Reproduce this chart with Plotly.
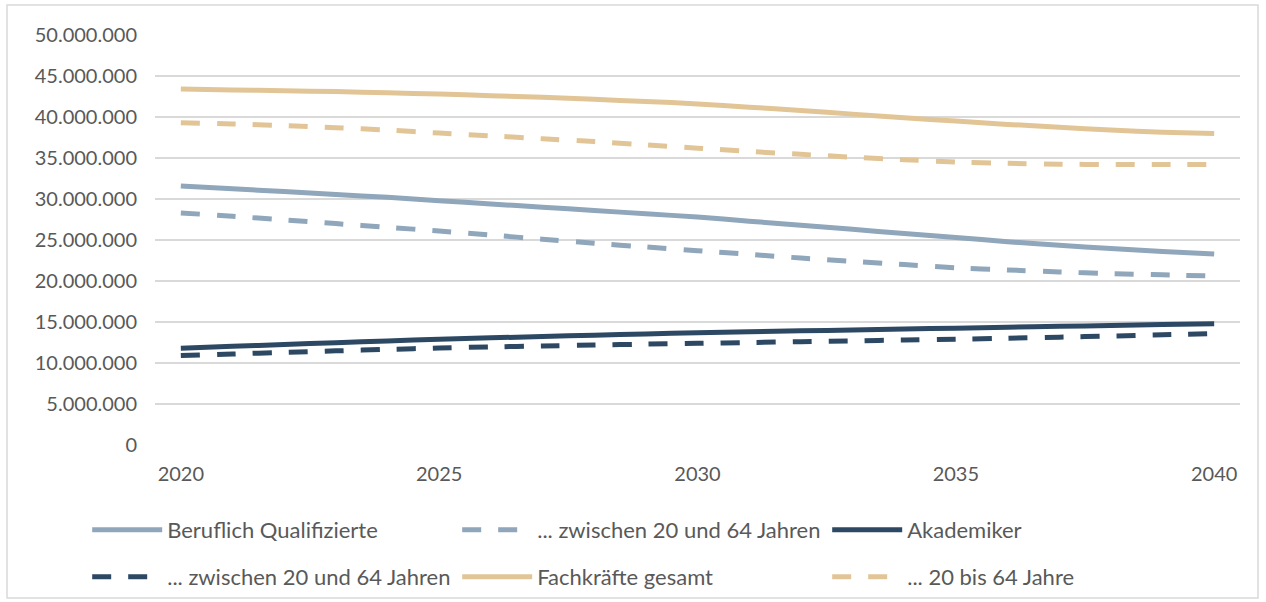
import plotly.graph_objects as go

# Jahre 2020-2040
years = list(range(2020, 2041))

# Werte in Mio. Personen
beruflich = [31.6, 31.25, 30.9, 30.55, 30.2, 29.8, 29.4, 29.0, 28.6, 28.2, 27.8,
             27.3, 26.8, 26.3, 25.8, 25.3, 24.8, 24.35, 23.95, 23.6, 23.3]
beruflich_20_64 = [28.3, 27.9, 27.45, 27.0, 26.55, 26.1, 25.6, 25.1, 24.6, 24.15, 23.7,
                   23.25, 22.8, 22.4, 22.0, 21.6, 21.35, 21.1, 20.9, 20.75, 20.6]
akademiker = [11.8, 12.03, 12.26, 12.48, 12.69, 12.9, 13.07, 13.23, 13.39, 13.55, 13.7,
              13.81, 13.92, 14.03, 14.14, 14.25, 14.36, 14.47, 14.58, 14.69, 14.8]
akademiker_20_64 = [10.9, 11.1, 11.3, 11.48, 11.66, 11.83, 11.96, 12.08, 12.19, 12.3, 12.4,
                    12.5, 12.6, 12.7, 12.8, 12.9, 13.02, 13.15, 13.29, 13.44, 13.6]
gesamt = [43.4, 43.3, 43.2, 43.1, 42.95, 42.8, 42.6, 42.4, 42.15, 41.9, 41.6,
          41.2, 40.8, 40.35, 39.9, 39.5, 39.1, 38.75, 38.4, 38.15, 38.0]
gesamt_20_64 = [39.3, 39.15, 38.95, 38.7, 38.4, 38.05, 37.7, 37.35, 37.0, 36.6, 36.2,
                35.8, 35.45, 35.1, 34.8, 34.5, 34.35, 34.25, 34.2, 34.2, 34.2]

x_ticks = [2020, 2025, 2030, 2035, 2040]
y_ticks = list(range(0, 50_000_001, 5_000_000))

BLUE = "#8FA6BB"
NAVY = "#2C4863"
TAN = "#E2C596"
GRID = "#D9D9D9"
TEXT = "#595959"
FONT = "Lato, Carlito, Calibri, sans-serif"
DASH = "19px,17px"

series = [
    ("Beruflich Qualifizierte", beruflich, BLUE, "solid", "legend"),
    ("... zwischen 20 und 64 Jahren", beruflich_20_64, BLUE, DASH, "legend"),
    ("Akademiker", akademiker, NAVY, "solid", "legend"),
    ("... zwischen 20 und 64 Jahren", akademiker_20_64, NAVY, DASH, "legend2"),
    ("Fachkräfte gesamt", gesamt, TAN, "solid", "legend2"),
    ("... 20 bis 64 Jahre", gesamt_20_64, TAN, DASH, "legend2"),
]

fig = go.Figure()
for name, vals, color, dash, leg in series:
    fig.add_trace(go.Scatter(
        x=years, y=[v * 1e6 for v in vals],
        mode="lines", name=name, legend=leg,
        line=dict(color=color, width=5, dash=dash, shape="spline", smoothing=0.6),
        hovertemplate=f"{name}<br>%{{x}}: %{{y:,.0f}}<extra></extra>",
    ))

# two one-row legends (3 entries each) below the plot
legend_common = dict(
    orientation="h", xanchor="left", yanchor="middle",
    x=-0.0625, entrywidth=285, itemwidth=70,
    font=dict(family=FONT, size=22, color=TEXT),
    bgcolor="rgba(0,0,0,0)", traceorder="normal",
)

fig.update_layout(
    width=1266, height=602,
    # autoexpand off: the legends must not squeeze the plot area
    margin=dict(l=155, r=26, t=35, b=157, autoexpand=False),
    paper_bgcolor="white", plot_bgcolor="white",
    separators=",.",
    font=dict(family=FONT, size=20, color=TEXT),
    showlegend=True,
    legend=dict(y=-0.207, **legend_common),
    legend2=dict(y=-0.322, **legend_common),
    xaxis=dict(
        range=[2019.5, 2040.5], tickvals=x_ticks, showgrid=False,
        zeroline=False, showline=False, ticks="", ticklabelstandoff=15,
    ),
    yaxis=dict(
        range=[0, 50_000_000], tickvals=y_ticks, tickformat=",d",
        showgrid=True, gridcolor=GRID, gridwidth=1.5, zeroline=False,
        showline=False, ticks="", ticklabelstandoff=17,
    ),
    shapes=[dict(
        type="rect", xref="paper", yref="paper",
        x0=-0.1364, x1=1.0166, y0=-0.373, y1=1.073,
        line=dict(color=GRID, width=1.5), fillcolor="rgba(0,0,0,0)", layer="below",
    )],
)

# page margin off so the figure sits at the window's top-left corner
fig.write_html("out.html", config={"displayModeBar": False},
               post_script="document.body.style.margin='0';")
